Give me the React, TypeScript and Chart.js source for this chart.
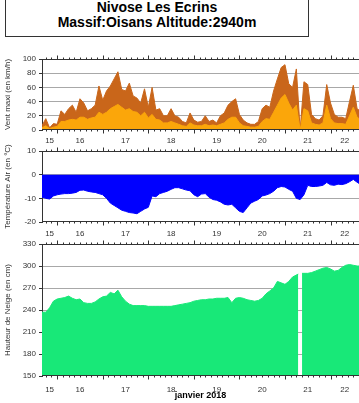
import React, { useEffect, useRef } from 'react';
import { Chart, registerables } from 'chart.js';

Chart.register(...registerables);

// sample times: hours since 15 Jan 2018 00:00 (2-hour steps, last one clipped at the plot end)
const hours = Array.from({ length: 85 }, (_, i) => Math.min(16 + 2 * i, 183));
// snow sensor readings bracketing the missing measurement are one hour closer to it
const snowHours = hours.map((h) => (h === 150 ? 151 : h === 154 ? 153 : h));

const windMax = [
  6, 16, 3, 9, 8, 27, 22, 30, 35, 25,
  44, 38, 27, 30, 35, 62, 42, 55, 62, 72,
  82, 57, 55, 66, 48, 45, 38, 58, 32, 60,
  28, 30, 20, 20, 30, 20, 18, 12, 10, 24,
  14, 11, 12, 20, 12, 14, 10, 20, 24, 35,
  40, 44, 22, 14, 10, 8, 8, 12, 30, 35,
  32, 55, 72, 88, 92, 65, 60, 86, 0, 68,
  64, 22, 16, 14, 20, 64, 38, 22, 18, 18,
  16, 40, 63, 30, 28,
];

const windMean = [
  3, 6, 2, 4, 5, 12, 12, 14, 15, 14,
  18, 18, 15, 17, 18, 25, 22, 25, 30, 33,
  36, 32, 28, 30, 26, 25, 20, 25, 17, 22,
  15, 14, 10, 10, 12, 10, 8, 6, 5, 10,
  7, 6, 6, 8, 6, 7, 6, 8, 10, 15,
  18, 18, 10, 6, 5, 4, 4, 5, 12, 16,
  15, 25, 35, 45, 50, 38, 28, 35, 0, 30,
  27, 10, 8, 7, 10, 35, 16, 10, 9, 9,
  8, 20, 32, 18, 16,
];

const temperature = [
  -9.5, -10, -10.3, -9, -8.5, -8.2, -8, -8, -7.8, -7.5,
  -6.6, -6.5, -7, -7.3, -7.5, -8, -8.5, -10, -12, -13,
  -14, -15, -15.5, -16, -16.2, -16.5, -15.5, -14.5, -13.8, -9,
  -9.3, -8, -7.5, -7, -6.2, -5.5, -5.5, -6, -6.5, -6.8,
  -8.5, -9.3, -8.2, -8, -9.5, -10.5, -10.8, -11.5, -12.5, -12.8,
  -12.5, -14, -15.5, -16, -14, -12, -11.2, -10.5, -9, -8.6,
  -8, -7, -5.5, -5, -5.2, -6.2, -7, -10, -10.5, -8.5,
  -4.5, -5, -5, -4.8, -4.5, -3.3, -4.3, -4.5, -4, -4.2,
  -3.8, -3, -2, -3.2, -3.7,
];

const snowHeight = [
  237, 237, 243, 252, 255, 256, 257, 259, 256, 254,
  255, 250, 249, 249, 251, 255, 258, 259, 264, 262,
  267, 258, 252, 248, 246, 246, 246, 246, 245, 245,
  245, 245, 245, 245, 245, 246, 247, 248, 249, 250,
  252, 253, 254, 254, 255, 255, 256, 256, 256, 257,
  250, 256, 257, 256, 254, 253, 252, 253, 256, 262,
  266, 270, 279, 277, 275, 279, 285, 289, null, 290,
  290, 291, 293, 295, 297, 298, 296, 293, 294, 298,
  301, 302, 301, 300, 300,
];

const dayLabels = ['15', '16', '17', '18', '19', '20', '21', '22'];
const monthLabel = 'janvier 2018';
const titleLines = ['Nivose Les Ecrins', 'Massif:Oisans Altitude:2940m'];
const windTitle = 'Vent maxi (en km/h)';
const tempTitle = 'Température Air (en °C)';
const snowTitle = 'Hauteur de Neige (en cm)';

const X_MIN = 16;
const X_MAX = 183;

const W = 359;
const H = 403;
const FONT = "'Liberation Sans', Arial, Helvetica, sans-serif";
const AXIS = '#333333';
const TEXT = '#333333';

const pts = (vals: (number | null)[], xs: number[] = hours) =>
  vals.map((v, i) => ({ x: xs[i], y: v }));

const dayCenter = (i: number) => {
  const start = i * 24;
  const end = start + 24;
  return (Math.max(start, X_MIN) + Math.min(end, X_MAX)) / 2;
};

const frameTicks = {
  id: 'frameTicks',
  afterDraw(chart: any) {
    const { ctx, chartArea: a, scales } = chart;
    const x = scales.x;
    ctx.save();
    ctx.strokeStyle = AXIS;
    ctx.lineWidth = 1;
    ctx.beginPath();
    const top = Math.round(a.top) + 0.5;
    const bot = Math.round(a.bottom) - 0.5;
    ctx.moveTo(a.left, top);
    ctx.lineTo(a.right, top);
    ctx.moveTo(a.left, bot);
    ctx.lineTo(a.right, bot);
    for (let h = Math.ceil(X_MIN / 3) * 3; h <= X_MAX; h += 3) {
      const px = Math.round(x.getPixelForValue(h)) + 0.5;
      const len = h % 24 === 0 ? 4 : 2;
      ctx.moveTo(px, top);
      ctx.lineTo(px, top - len);
      ctx.moveTo(px, bot);
      ctx.lineTo(px, bot + len);
    }
    ctx.stroke();
    ctx.restore();
  },
};

type Panel = {
  datasets: any[];
  yMin: number;
  yMax: number;
  yStep: number;
  labelStep: number;
  yTitle: string;
  top: number;
  bottom: number;
  labelPad: number;
  xTitle?: string;
};

function createChart(canvas: HTMLCanvasElement, p: Panel) {
  const xHeight = p.xTitle ? H - p.bottom : 15;
  const isLabel = (v: number) => Math.abs((v - p.yMin) % p.labelStep) < 1e-6;
  return new Chart(canvas, {
    type: 'line',
    data: { datasets: p.datasets },
    options: {
      animation: false,
      responsive: false,
      devicePixelRatio: 1,
      events: [],
      layout: { padding: { top: p.top, bottom: H - p.bottom - xHeight, left: 0, right: 0 } },
      plugins: { legend: { display: false }, tooltip: { enabled: false }, title: { display: false } },
      elements: { point: { radius: 0 }, line: { tension: 0 } },
      scales: {
        x: {
          type: 'linear',
          min: X_MIN,
          max: X_MAX,
          afterBuildTicks: (axis: any) => {
            axis.ticks = dayLabels.map((_, i) => ({ value: dayCenter(i) }));
          },
          afterFit: (axis: any) => {
            axis.height = xHeight;
          },
          grid: { display: false, drawTicks: false },
          border: { display: false },
          ticks: {
            autoSkip: false,
            maxRotation: 0,
            padding: p.labelPad,
            color: TEXT,
            font: { family: FONT, size: 8 },
            callback: (_v: any, i: number) => dayLabels[i],
          },
          title: p.xTitle
            ? {
                display: true,
                text: p.xTitle,
                color: '#000',
                font: { family: FONT, size: 9, weight: 'bold' },
                padding: { top: 2, bottom: 2 },
              }
            : { display: false },
        },
        y: {
          type: 'linear',
          min: p.yMin,
          max: p.yMax,
          afterBuildTicks: (axis: any) => {
            const t: { value: number }[] = [];
            for (let v = p.yMin; v <= p.yMax + 1e-9; v += p.yStep) t.push({ value: v });
            axis.ticks = t;
          },
          afterFit: (axis: any) => {
            axis.width = 42;
          },
          grid: {
            color: (c: any) => {
              const v = c.tick ? c.tick.value : NaN;
              if (v === p.yMin || v === p.yMax) return 'rgba(0,0,0,0)';
              return isLabel(v) ? '#a8a8a8' : '#cdcdcd';
            },
            tickColor: AXIS,
            tickLength: 3,
            drawTicks: true,
          },
          border: { display: true, color: AXIS, width: 1 },
          ticks: {
            padding: 3,
            color: TEXT,
            font: { family: FONT, size: 8 },
            callback: (v: any) => (isLabel(Number(v)) ? String(v) : ''),
          },
          title: {
            display: true,
            text: p.yTitle,
            color: TEXT,
            font: { family: FONT, size: 8 },
            padding: { top: 3, bottom: 0 },
          },
        },
      },
    } as any,
    plugins: [frameTicks],
  });
}

const windPanel: Panel = {
  datasets: [
    {
      data: pts(windMean),
      backgroundColor: '#FBA60A',
      borderColor: '#FBA60A',
      borderWidth: 1,
      fill: 'origin',
    },
    {
      data: pts(windMax),
      backgroundColor: '#C9661A',
      borderColor: '#C9661A',
      borderWidth: 1,
      fill: 'origin',
    },
  ],
  yMin: 0,
  yMax: 100,
  yStep: 10,
  labelStep: 20,
  yTitle: windTitle,
  top: 59,
  bottom: 130,
  labelPad: 6,
};

const tempPanel: Panel = {
  datasets: [
    {
      data: pts(temperature),
      backgroundColor: '#0000FF',
      borderColor: '#0000FF',
      borderWidth: 1,
      fill: 'origin',
    },
  ],
  yMin: -20,
  yMax: 10,
  yStep: 5,
  labelStep: 10,
  yTitle: tempTitle,
  top: 151,
  bottom: 222,
  labelPad: 7,
};

const snowPanel: Panel = {
  datasets: [
    {
      data: pts(snowHeight, snowHours),
      backgroundColor: '#18E878',
      borderColor: '#18E878',
      borderWidth: 1,
      fill: 'start',
      spanGaps: false,
    },
  ],
  yMin: 150,
  yMax: 330,
  yStep: 15,
  labelStep: 30,
  yTitle: snowTitle,
  top: 244,
  bottom: 376,
  labelPad: 9,
  xTitle: monthLabel,
};

const canvasStyle: React.CSSProperties = {
  position: 'absolute',
  left: 0,
  top: 0,
  width: W,
  height: H,
};

export default function App() {
  const r1 = useRef<HTMLCanvasElement>(null);
  const r2 = useRef<HTMLCanvasElement>(null);
  const r3 = useRef<HTMLCanvasElement>(null);

  useEffect(() => {
    const charts = [
      createChart(r1.current as HTMLCanvasElement, windPanel),
      createChart(r2.current as HTMLCanvasElement, tempPanel),
      createChart(r3.current as HTMLCanvasElement, snowPanel),
    ];
    return () => charts.forEach((c) => c.destroy());
  }, []);

  return (
    <div
      style={{
        position: 'absolute',
        left: 0,
        top: 0,
        width: W,
        height: H,
        background: '#fff',
        overflow: 'hidden',
        fontFamily: FONT,
      }}
    >
      <div
        style={{
          position: 'absolute',
          left: 5,
          top: -1,
          width: 302,
          height: 36,
          border: '1px solid #333',
          textAlign: 'center',
          fontWeight: 'bold',
          fontSize: 14,
          lineHeight: '15px',
          color: '#000',
        }}
      >
        {titleLines.map((t) => (
          <div key={t}>{t}</div>
        ))}
      </div>
      <canvas ref={r1} width={W} height={H} style={canvasStyle} />
      <canvas ref={r2} width={W} height={H} style={canvasStyle} />
      <canvas ref={r3} width={W} height={H} style={canvasStyle} />
    </div>
  );
}
